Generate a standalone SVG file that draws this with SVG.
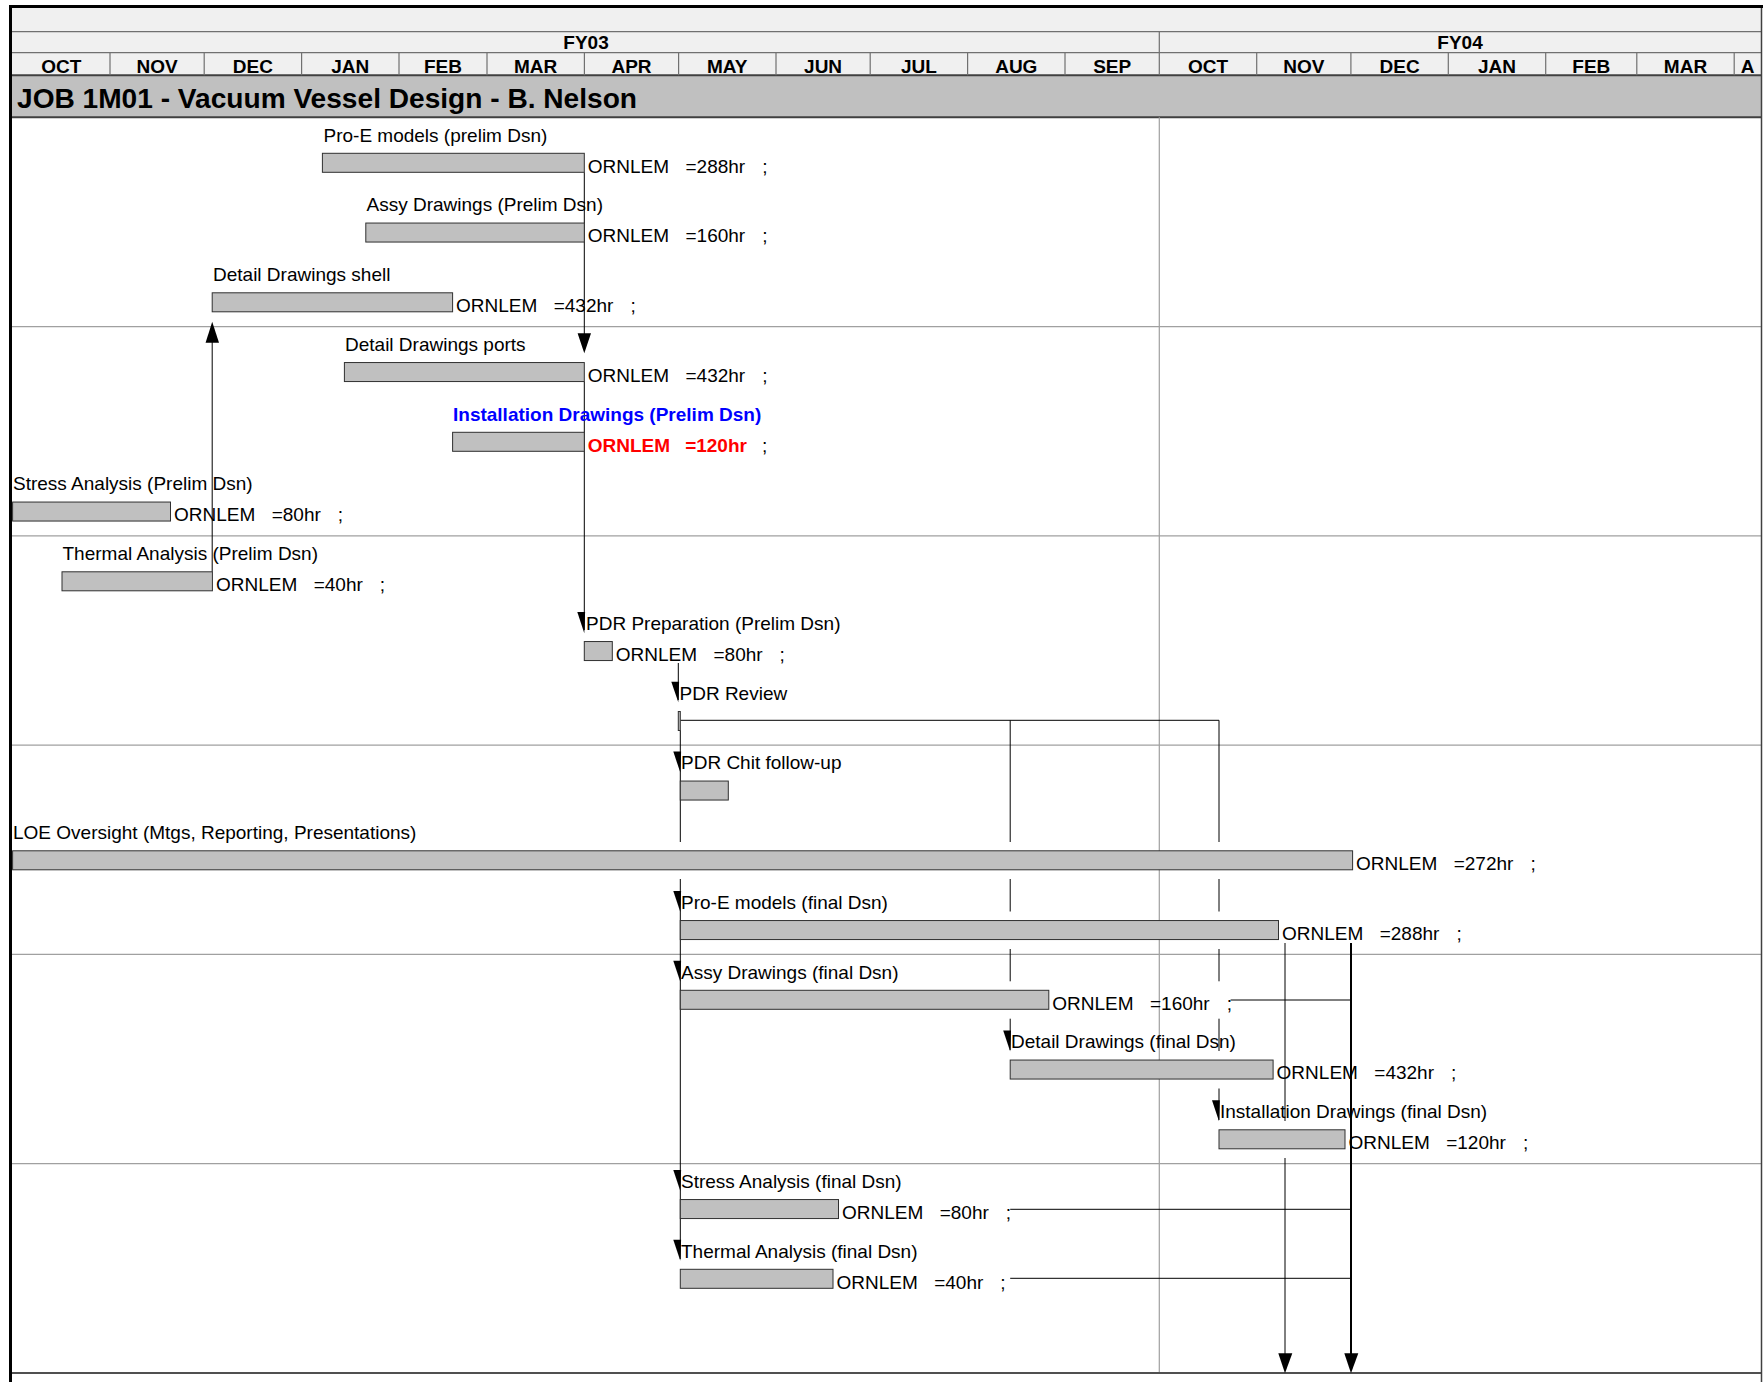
<svg xmlns="http://www.w3.org/2000/svg" width="1763" height="1382" viewBox="0 0 1763 1382">
<style>
.t{font-family:"Liberation Sans",Arial,sans-serif;font-size:19px;fill:#000}
.hb{font-family:"Liberation Sans",Arial,sans-serif;font-size:19px;font-weight:bold;fill:#000;text-anchor:middle}
.bar{fill:#c0c0c0;stroke:#303030;stroke-width:1}
.ln{stroke:#000;stroke-width:1;fill:none}
.grid{stroke:#a0a0a0;stroke-width:1.2}
.hd{stroke:#707070;stroke-width:1.2}
.ah{fill:#000}
.blue{fill:#0000ff;font-weight:bold}
.red{fill:#ff0000;font-weight:bold}
</style>
<rect x="0" y="0" width="1763" height="1382" fill="#fff"/>
<g id="header">
<rect x="11" y="8" width="1751" height="67.3" fill="#f0f0f0"/>
<rect x="11" y="75.3" width="1751" height="42" fill="#c0c0c0"/>
<line class="hd" x1="11" y1="31.7" x2="1762" y2="31.7"/>
<line class="hd" x1="11" y1="52.7" x2="1762" y2="52.7"/>
<line x1="11" y1="75.3" x2="1762" y2="75.3" stroke="#404040" stroke-width="2"/>
<line x1="11" y1="117.3" x2="1762" y2="117.3" stroke="#404040" stroke-width="2"/>
<line class="hd" x1="1159.3" y1="31.7" x2="1159.3" y2="75.3"/>
<g class="hd">
<line x1="110" y1="52.7" x2="110" y2="75.3"/><line x1="204.2" y1="52.7" x2="204.2" y2="75.3"/>
<line x1="301.6" y1="52.7" x2="301.6" y2="75.3"/><line x1="399" y1="52.7" x2="399" y2="75.3"/>
<line x1="487" y1="52.7" x2="487" y2="75.3"/><line x1="584.4" y1="52.7" x2="584.4" y2="75.3"/>
<line x1="678.6" y1="52.7" x2="678.6" y2="75.3"/><line x1="776" y1="52.7" x2="776" y2="75.3"/>
<line x1="870.2" y1="52.7" x2="870.2" y2="75.3"/><line x1="967.6" y1="52.7" x2="967.6" y2="75.3"/>
<line x1="1065" y1="52.7" x2="1065" y2="75.3"/><line x1="1256.7" y1="52.7" x2="1256.7" y2="75.3"/>
<line x1="1350.9" y1="52.7" x2="1350.9" y2="75.3"/><line x1="1448.3" y1="52.7" x2="1448.3" y2="75.3"/>
<line x1="1545.7" y1="52.7" x2="1545.7" y2="75.3"/><line x1="1636.8" y1="52.7" x2="1636.8" y2="75.3"/>
<line x1="1734.2" y1="52.7" x2="1734.2" y2="75.3"/>
</g>
<text class="hb" x="586" y="49.3">FY03</text>
<text class="hb" x="1460" y="49.3">FY04</text>
<g>
<text class="hb" x="61.3" y="72.7">OCT</text><text class="hb" x="157.1" y="72.7">NOV</text>
<text class="hb" x="252.9" y="72.7">DEC</text><text class="hb" x="350.3" y="72.7">JAN</text>
<text class="hb" x="443" y="72.7">FEB</text><text class="hb" x="535.7" y="72.7">MAR</text>
<text class="hb" x="631.5" y="72.7">APR</text><text class="hb" x="727.3" y="72.7">MAY</text>
<text class="hb" x="823.1" y="72.7">JUN</text><text class="hb" x="918.9" y="72.7">JUL</text>
<text class="hb" x="1016.3" y="72.7">AUG</text><text class="hb" x="1112.2" y="72.7">SEP</text>
<text class="hb" x="1208" y="72.7">OCT</text><text class="hb" x="1303.8" y="72.7">NOV</text>
<text class="hb" x="1399.6" y="72.7">DEC</text><text class="hb" x="1497" y="72.7">JAN</text>
<text class="hb" x="1591.3" y="72.7">FEB</text><text class="hb" x="1685.5" y="72.7">MAR</text>
<text class="hb" x="1747.6" y="72.7">A</text>
</g>
<text x="17" y="107.5" font-family="Liberation Sans, Arial, sans-serif" font-size="28" font-weight="bold" textLength="620" lengthAdjust="spacingAndGlyphs">JOB 1M01 - Vacuum Vessel Design - B. Nelson</text>
</g>
<g id="grid">
<line class="grid" x1="1159.3" y1="117.3" x2="1159.3" y2="1372.8"/>
<line class="grid" x1="11" y1="326.55" x2="1762" y2="326.55"/>
<line class="grid" x1="11" y1="535.8" x2="1762" y2="535.8"/>
<line class="grid" x1="11" y1="745.05" x2="1762" y2="745.05"/>
<line class="grid" x1="11" y1="954.3" x2="1762" y2="954.3"/>
<line class="grid" x1="11" y1="1163.55" x2="1762" y2="1163.55"/>
<line x1="11" y1="1373" x2="1762" y2="1373" stroke="#505050" stroke-width="2"/>
</g>
<g id="connectors">
<line class="ln" x1="584.3" y1="172.3" x2="584.3" y2="335"/>
<polygon class="ah" points="577.6,333.3 591,333.3 584.3,353.3"/>
<line class="ln" x1="584.3" y1="381.5" x2="584.3" y2="630"/>
<polygon class="ah" points="577.3,612 585.1,612 584.3,633.3"/>
<line class="ln" x1="212.2" y1="571.8" x2="212.2" y2="340"/>
<polygon class="ah" points="205.6,342.7 219,342.7 212.2,321.7"/>
<line class="ln" x1="678.3" y1="663" x2="678.3" y2="700"/>
<polygon class="ah" points="671.3,681.8 679.1,681.8 678.3,702.3"/>
<line class="ln" x1="680.3" y1="720.3" x2="1219" y2="720.3"/>
<line class="ln" x1="680.3" y1="730.3" x2="680.3" y2="842"/>
<line class="ln" x1="680.3" y1="879" x2="680.3" y2="1259"/>
<polygon class="ah" points="673.3,751.6 681.1,751.6 680.3,772.5"/>
<polygon class="ah" points="673.3,891.1 681.1,891.1 680.3,912"/>
<polygon class="ah" points="673.3,960.8 681.1,960.8 680.3,981.8"/>
<polygon class="ah" points="673.3,1170.1 681.1,1170.1 680.3,1191"/>
<polygon class="ah" points="673.3,1239.8 681.1,1239.8 680.3,1260.8"/>
<path class="ln" d="M1010.2,720.3V842M1010.2,879V911.5M1010.2,949V981.3M1010.2,1018.7V1050"/>
<polygon class="ah" points="1003.2,1030.6 1011,1030.6 1010.2,1051.5"/>
<path class="ln" d="M1219,720.3V842M1219,879V911.5M1219,949V981.3M1219,1018.7V1051M1219,1088.5V1120"/>
<polygon class="ah" points="1212,1100.3 1219.8,1100.3 1219,1121.3"/>
<path class="ln" d="M1285,943V1121M1285,1158V1356"/>
<polygon class="ah" points="1278.3,1353.3 1292.3,1353.3 1285,1373.3"/>
<line x1="1351" y1="943" x2="1351" y2="1356" stroke="#000" stroke-width="2"/>
<polygon class="ah" points="1344.3,1353.3 1358.3,1353.3 1351,1373.3"/>
<line class="ln" x1="1230.6" y1="1000" x2="1351" y2="1000"/>
<line class="ln" x1="1010.2" y1="1209.3" x2="1351" y2="1209.3"/>
<line class="ln" x1="1010.2" y1="1278.3" x2="1351" y2="1278.3"/>
</g>
<g id="t0"><text class="t" x="323.5" y="141.7">Pro-E models (prelim Dsn)</text><rect class="bar" x="322.4" y="153.3" width="261.9" height="19"/><text class="t" x="587.8" y="172.7">ORNLEM<tspan dx="16.4">=288hr</tspan><tspan dx="17">;</tspan></text></g>
<g id="t1"><text class="t" x="366.5" y="211.45">Assy Drawings (Prelim Dsn)</text><rect class="bar" x="365.8" y="223.05" width="218.5" height="19"/><text class="t" x="587.8" y="242.45">ORNLEM<tspan dx="16.4">=160hr</tspan><tspan dx="17">;</tspan></text></g>
<g id="t2"><text class="t" x="213" y="281.2">Detail Drawings shell</text><rect class="bar" x="212.2" y="292.8" width="240.4" height="19"/><text class="t" x="456" y="312.2">ORNLEM<tspan dx="16.4">=432hr</tspan><tspan dx="17">;</tspan></text></g>
<g id="t3"><text class="t" x="345" y="350.95">Detail Drawings ports</text><rect class="bar" x="344.4" y="362.55" width="239.9" height="19"/><text class="t" x="587.8" y="381.95">ORNLEM<tspan dx="16.4">=432hr</tspan><tspan dx="17">;</tspan></text></g>
<g id="t4"><text class="t blue" x="453" y="420.7">Installation Drawings (Prelim Dsn)</text><rect class="bar" x="452.6" y="432.3" width="131.7" height="19"/><text class="t" x="587.8" y="451.7"><tspan class="red">ORNLEM</tspan><tspan class="red" dx="15">=120hr</tspan><tspan dx="15">;</tspan></text></g>
<g id="t5"><text class="t" x="13" y="490.45">Stress Analysis (Prelim Dsn)</text><rect class="bar" x="12.6" y="502.05" width="157.9" height="19"/><text class="t" x="174" y="521.45">ORNLEM<tspan dx="16.4">=80hr</tspan><tspan dx="17">;</tspan></text></g>
<g id="t6"><text class="t" x="62.5" y="560.2">Thermal Analysis (Prelim Dsn)</text><rect class="bar" x="62" y="571.8" width="150.4" height="19"/><text class="t" x="216" y="591.2">ORNLEM<tspan dx="16.4">=40hr</tspan><tspan dx="17">;</tspan></text></g>
<g id="t7"><text class="t" x="586" y="629.95">PDR Preparation (Prelim Dsn)</text><rect class="bar" x="584.3" y="641.55" width="28" height="19"/><text class="t" x="615.8" y="660.95">ORNLEM<tspan dx="16.4">=80hr</tspan><tspan dx="17">;</tspan></text></g>
<g id="t8"><text class="t" x="679.5" y="699.7">PDR Review</text><rect class="bar" x="678.3" y="711.5" width="2" height="19"/></g>
<g id="t9"><text class="t" x="681" y="769.45">PDR Chit follow-up</text><rect class="bar" x="680.3" y="781.05" width="48" height="19"/></g>
<g id="t10"><text class="t" x="13" y="839.2">LOE Oversight (Mtgs, Reporting, Presentations)</text><rect class="bar" x="12.6" y="850.8" width="1340" height="19"/><text class="t" x="1356" y="870.2">ORNLEM<tspan dx="16.4">=272hr</tspan><tspan dx="17">;</tspan></text></g>
<g id="t11"><text class="t" x="681" y="908.95">Pro-E models (final Dsn)</text><rect class="bar" x="680.3" y="920.55" width="598.2" height="19"/><text class="t" x="1282" y="939.95">ORNLEM<tspan dx="16.4">=288hr</tspan><tspan dx="17">;</tspan></text></g>
<g id="t12"><text class="t" x="681" y="978.7">Assy Drawings (final Dsn)</text><rect class="bar" x="680.3" y="990.3" width="368.5" height="19"/><text class="t" x="1052.3" y="1009.7">ORNLEM<tspan dx="16.4">=160hr</tspan><tspan dx="17">;</tspan></text></g>
<g id="t13"><text class="t" x="1011" y="1048.45">Detail Drawings (final Dsn)</text><rect class="bar" x="1010.2" y="1060.05" width="262.9" height="19"/><text class="t" x="1276.6" y="1079.45">ORNLEM<tspan dx="16.4">=432hr</tspan><tspan dx="17">;</tspan></text></g>
<g id="t14"><text class="t" x="1220" y="1118.2">Installation Drawings (final Dsn)</text><rect class="bar" x="1219" y="1129.8" width="126" height="19"/><text class="t" x="1348.5" y="1149.2">ORNLEM<tspan dx="16.4">=120hr</tspan><tspan dx="17">;</tspan></text></g>
<g id="t15"><text class="t" x="681" y="1187.95">Stress Analysis (final Dsn)</text><rect class="bar" x="680.3" y="1199.55" width="158.2" height="19"/><text class="t" x="842" y="1218.95">ORNLEM<tspan dx="16.4">=80hr</tspan><tspan dx="17">;</tspan></text></g>
<g id="t16"><text class="t" x="681" y="1257.7">Thermal Analysis (final Dsn)</text><rect class="bar" x="680.3" y="1269.3" width="152.7" height="19"/><text class="t" x="836.5" y="1288.7">ORNLEM<tspan dx="16.4">=40hr</tspan><tspan dx="17">;</tspan></text></g>
<g id="frame">
<line x1="10.5" y1="5" x2="10.5" y2="1382" stroke="#000" stroke-width="3"/>
<line x1="9" y1="6.5" x2="1763" y2="6.5" stroke="#000" stroke-width="3"/>
<line x1="1761.5" y1="8" x2="1761.5" y2="1382" stroke="#404040" stroke-width="1.5"/>
</g>
</svg>
